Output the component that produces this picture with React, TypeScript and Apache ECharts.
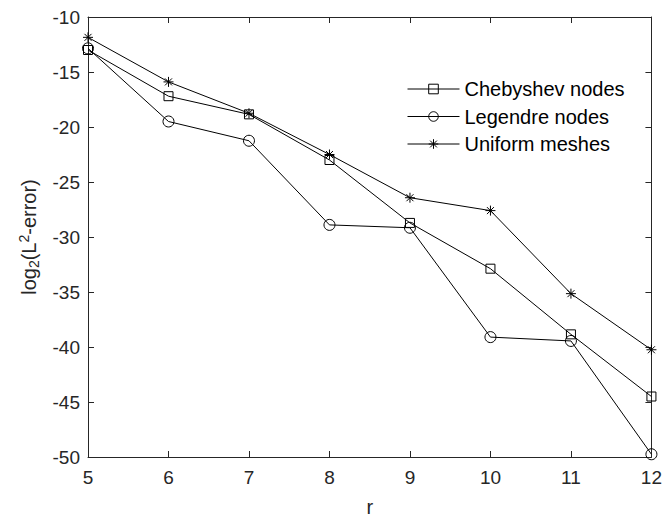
import React, { useEffect, useRef } from "react";
import * as echarts from "echarts";

const rValues = [5, 6, 7, 8, 9, 10, 11, 12];
const chebyshev = [-13.0, -17.2, -18.85, -23.0, -28.72, -32.88, -38.85, -44.5];
const legendre = [-12.85, -19.5, -21.25, -28.9, -29.16, -39.1, -39.45, -49.75];
const uniform = [-11.85, -15.9, -18.75, -22.5, -26.43, -27.6, -35.15, -40.25];
const seriesNames = ["Chebyshev nodes", "Legendre nodes", "Uniform meshes"];

const FONT = "Liberation Sans, Arial, Helvetica, sans-serif";
const AXIS = "#262626";
const ASTERISK = "path://M0,-1L0,1M-1,0L1,0M-0.7,-0.7L0.7,0.7M-0.7,0.7L0.7,-0.7";

function pairs(vals: number[]) {
  return rValues.map((r, i) => [r, vals[i]]);
}

export default function App() {
  const ref = useRef<HTMLDivElement>(null);
  useEffect(() => {
    if (!ref.current) return;
    const chart = echarts.init(ref.current, null, { renderer: "svg" });
    const axisCommon = {
      axisLine: { show: true, lineStyle: { color: AXIS, width: 1 } },
      axisTick: { show: true, inside: true, length: 6, lineStyle: { color: AXIS } },
      splitLine: { show: false },
    };
    const mk = (name: string, vals: number[], symbol: string, size: number) => ({
      type: "line",
      name,
      data: pairs(vals),
      symbol,
      symbolSize: size,
      showAllSymbol: true,
      lineStyle: { color: "#000", width: 1 },
      itemStyle: { color: "none", borderColor: "#000", borderWidth: 1 },
      emphasis: { disabled: true },
    });
    chart.setOption({
      animation: false,
      backgroundColor: "#fff",
      grid: { left: 88, top: 17, right: 8, bottom: 56 },
      legend: {
        orient: "vertical",
        left: 402,
        top: 73,
        itemWidth: 52,
        itemHeight: 12,
        itemGap: 5.5,
        data: seriesNames,
        lineStyle: { width: 1, color: "#000" },
        itemStyle: { borderWidth: 1, borderColor: "#000", color: "none" },
        textStyle: { fontFamily: FONT, fontSize: 20, color: "#000", lineHeight: 22 },
      },
      xAxis: [
        {
          type: "value",
          min: 5,
          max: 12,
          interval: 1,
          position: "bottom",
          ...axisCommon,
          axisLabel: { fontFamily: FONT, fontSize: 19, color: AXIS, margin: 11 },
          name: "r",
          nameLocation: "middle",
          nameGap: 40,
          nameTextStyle: { fontFamily: FONT, fontSize: 20, color: AXIS },
        },
        {
          type: "value",
          min: 5,
          max: 12,
          interval: 1,
          position: "top",
          ...axisCommon,
          axisLabel: { show: false },
        },
      ],
      yAxis: [
        {
          type: "value",
          min: -50,
          max: -10,
          interval: 5,
          position: "left",
          ...axisCommon,
          axisLabel: { fontFamily: FONT, fontSize: 19, color: AXIS, margin: 8 },
          name: "{a|log}{sub|2}{a|(L}{sup|2}{a|-error)}",
          nameLocation: "middle",
          nameRotate: 90,
          nameGap: 47,
          nameTextStyle: {
            fontFamily: FONT,
            color: AXIS,
            rich: {
              a: { fontFamily: FONT, fontSize: 20, color: AXIS, lineHeight: 24 },
              sub: { fontFamily: FONT, fontSize: 14, color: AXIS, lineHeight: 13, verticalAlign: "bottom" },
              sup: { fontFamily: FONT, fontSize: 14, color: AXIS, lineHeight: 13, verticalAlign: "top" },
            },
          },
        },
        {
          type: "value",
          min: -50,
          max: -10,
          interval: 5,
          position: "right",
          ...axisCommon,
          axisLabel: { show: false },
        },
      ],
      series: [
        mk(seriesNames[0], chebyshev, "rect", 9),
        mk(seriesNames[1], legendre, "circle", 11),
        mk(seriesNames[2], uniform, ASTERISK, 10),
      ],
    });
    return () => chart.dispose();
  }, []);
  return <div ref={ref} style={{ width: 665, height: 522, position: "absolute", left: 0, top: 0 }} />;
}
